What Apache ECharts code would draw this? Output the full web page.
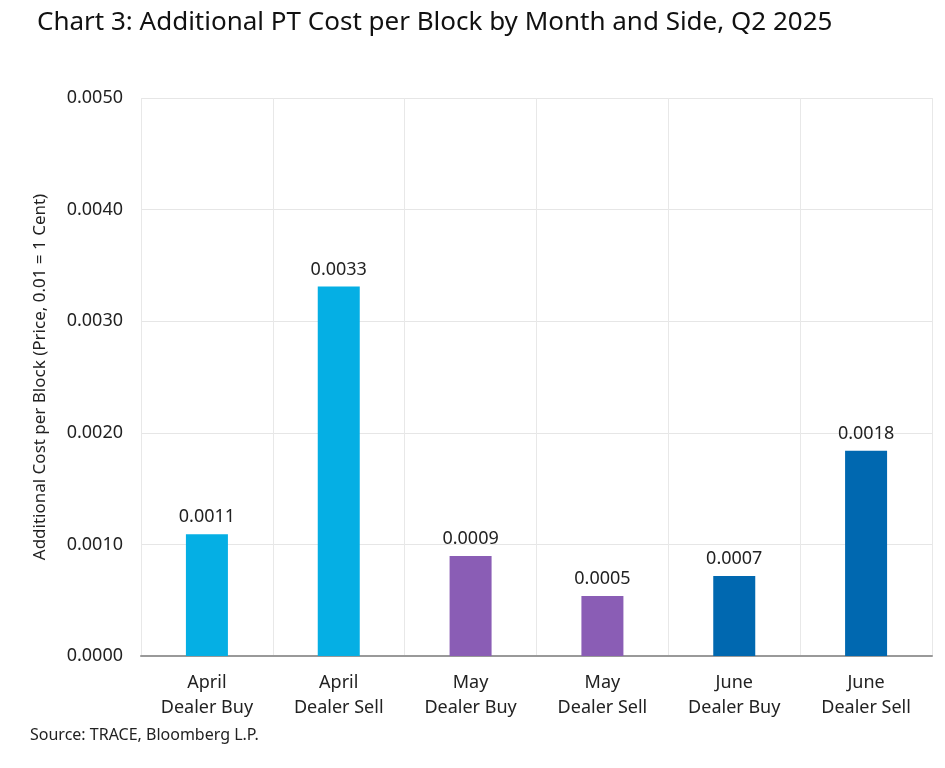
<!DOCTYPE html>
<html>
<head>
<meta charset="utf-8">
<script src="https://cdn.jsdelivr.net/npm/echarts@6/dist/echarts.min.js"></script>
<style>
  html, body { margin: 0; padding: 0; background: #fff; }
  #chart { width: 945px; height: 768px; }
</style>
</head>
<body>
<div id="chart"></div>
<script>
// categories and values
const categories = ['April\nDealer Buy', 'April\nDealer Sell', 'May\nDealer Buy', 'May\nDealer Sell', 'June\nDealer Buy', 'June\nDealer Sell'];
const values = [0.00109, 0.00331, 0.000895, 0.000537, 0.000716, 0.00184];
const barColors = ['#05AFE4', '#05AFE4', '#8A5DB5', '#8A5DB5', '#0068B0', '#0068B0'];
const yTicks = { min: 0, max: 0.005, interval: 0.001 };

const FONT = 'Noto Sans';
let myChart = echarts.init(document.getElementById('chart'));
let option = {
    backgroundColor: '#fff',
    animation: false,
    title: {
        text: 'Chart 3: Additional PT Cost per Block by Month and Side, Q2 2025',
        left: 32,
        top: 5,
        textStyle: { fontFamily: FONT, fontSize: 26, fontWeight: 'normal', color: '#111' }
    },
    graphic: [{
        type: 'text',
        left: 30,
        top: 727,
        style: { text: 'Source: TRACE, Bloomberg L.P.', font: '16px ' + FONT, fill: '#222' }
    }],
    grid: { left: 141, right: 13, top: 98, bottom: 112 },
    xAxis: {
        type: 'category',
        data: categories,
        axisLine: { lineStyle: { color: '#999', width: 2 } },
        axisTick: { show: false },
        axisLabel: { fontFamily: FONT, fontSize: 18, color: '#222', lineHeight: 25, margin: 14 },
        splitLine: { show: true, lineStyle: { color: '#e8e8e8', width: 1 } }
    },
    yAxis: {
        type: 'value',
        min: yTicks.min,
        max: yTicks.max,
        interval: yTicks.interval,
        name: 'Additional Cost per Block (Price, 0.01 = 1 Cent)',
        nameLocation: 'middle',
        nameGap: 92,
        nameTextStyle: { fontFamily: FONT, fontSize: 17, color: '#222' },
        axisLine: { show: false },
        axisTick: { show: false },
        axisLabel: {
            fontFamily: FONT, fontSize: 18, color: '#222', margin: 18,
            formatter: v => v.toFixed(4)
        },
        splitLine: { lineStyle: { color: '#e6e6e6', width: 1 } }
    },
    series: [{
        type: 'bar',
        data: values.map((v, i) => ({ value: v, itemStyle: { color: barColors[i] } })),
        barWidth: 42,
        label: {
            show: true,
            position: 'top',
            distance: 8,
            fontFamily: FONT, fontSize: 18, color: '#222',
            formatter: p => p.value.toFixed(4)
        }
    }]
};
myChart.setOption(option);
</script>
</body>
</html>
